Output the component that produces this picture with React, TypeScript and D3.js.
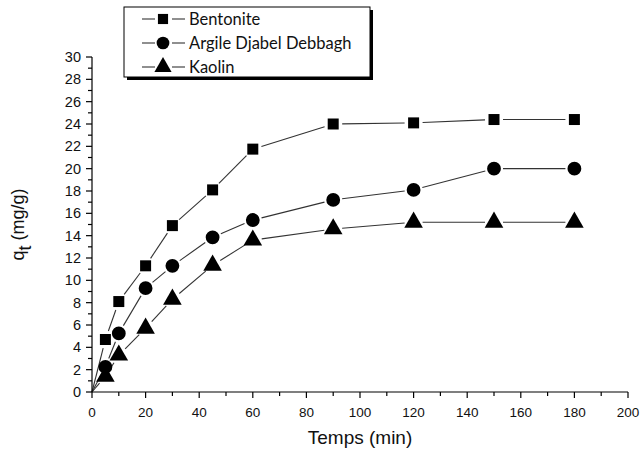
import * as d3 from 'd3';

const W = 642,
  H = 450;
const MARGIN = { top: 57, right: 14, bottom: 58, left: 92 };

const times = [0, 5, 10, 20, 30, 45, 60, 90, 120, 150, 180];
const bentonite = [0, 4.7, 8.1, 11.3, 14.9, 18.1, 21.75, 24.0, 24.1, 24.4, 24.4];
const argile = [0, 2.25, 5.25, 9.3, 11.3, 13.85, 15.4, 17.2, 18.1, 20.0, 20.0];
const kaolin = [0, 1.4, 3.3, 5.7, 8.3, 11.35, 13.6, 14.6, 15.2, 15.2, 15.2];

const seriesNames = ['Bentonite', 'Argile Djabel Debbagh', 'Kaolin'];
const seriesValues = [bentonite, argile, kaolin];
const seriesSymbols = [d3.symbolSquare, d3.symbolCircle, d3.symbolTriangle];
const symbolSizes = [121, 150, 150];

const xTicks = d3.range(0, 201, 20);
const yTicks = d3.range(0, 31, 2);

export default function App() {
  const boundsWidth = W - MARGIN.left - MARGIN.right;
  const boundsHeight = H - MARGIN.top - MARGIN.bottom;

  const xScale = d3.scaleLinear().domain([0, 200]).range([0, boundsWidth]);
  const yScale = d3.scaleLinear().domain([0, 30]).range([boundsHeight, 0]);

  const gap = 9;

  // lines with little gaps around the markers, Origin style
  const segs = seriesValues.map((vals, si) => {
    const pts = times.map((t, i) => [xScale(t), yScale(vals[i])]);
    return pts.slice(1).map((p, i) => {
      const a = pts[i];
      const dx = p[0] - a[0],
        dy = p[1] - a[1];
      const len = Math.sqrt(dx * dx + dy * dy);
      const g0 = i === 0 ? 0 : gap;
      if (len <= g0 + gap) return null;
      const ux = dx / len,
        uy = dy / len;
      return (
        <line
          key={si + '-' + i}
          x1={a[0] + ux * g0}
          y1={a[1] + uy * g0}
          x2={p[0] - ux * gap}
          y2={p[1] - uy * gap}
          stroke="#333"
          strokeWidth={1.1}
        />
      );
    });
  });

  const markers = seriesValues.map((vals, si) => {
    const path = d3.symbol().type(seriesSymbols[si]).size(symbolSizes[si])();
    return times.slice(1).map((t, i) => (
      <path
        key={si + '-' + i}
        d={path}
        transform={`translate(${xScale(t)},${yScale(vals[i + 1])})`}
        fill="black"
      />
    ));
  });

  const xMinor = d3.range(0, 201, 10);
  const yMinor = d3.range(0, 31, 1);

  return (
    <svg width={W} height={H} style={{ position: 'absolute', left: 0, top: 0, background: 'white' }}>
      <g transform={`translate(${MARGIN.left},${MARGIN.top})`} fontFamily="'Liberation Sans', Arial, sans-serif">
        {segs}
        {markers}
        {/* axes */}
        <line x1={0} x2={boundsWidth} y1={boundsHeight} y2={boundsHeight} stroke="black" strokeWidth={1.2} />
        <line x1={0} x2={0} y1={0} y2={boundsHeight} stroke="black" strokeWidth={1.2} />
        {xMinor.map((t) => (
          <line
            key={'xm' + t}
            x1={xScale(t)}
            x2={xScale(t)}
            y1={boundsHeight}
            y2={boundsHeight + (t % 20 === 0 ? 6 : 4)}
            stroke="black"
            strokeWidth={1.2}
          />
        ))}
        {yMinor.map((t) => (
          <line
            key={'ym' + t}
            x1={0}
            x2={t % 2 === 0 ? -6 : -4}
            y1={yScale(t)}
            y2={yScale(t)}
            stroke="black"
            strokeWidth={1.2}
          />
        ))}
        {xTicks.map((t) => (
          <text key={'xt' + t} x={xScale(t)} y={boundsHeight + 25} textAnchor="middle" fontSize={13.5} fill="#111">
            {t}
          </text>
        ))}
        {yTicks.map((t) => (
          <text
            key={'yt' + t}
            x={-11}
            y={yScale(t)}
            textAnchor="end"
            dominantBaseline="central"
            fontSize={14.5}
            fill="#111"
          >
            {t}
          </text>
        ))}
        <text x={boundsWidth / 2} y={boundsHeight + 52} textAnchor="middle" fontSize={19} fill="#111">
          Temps (min)
        </text>
        <text transform={`translate(${-68},${boundsHeight / 2}) rotate(-90)`} textAnchor="middle" fontSize={18} fill="#111">
          q<tspan dy={7} fontSize={18}>t</tspan>
          <tspan dy={-7}> (mg/g)</tspan>
        </text>
      </g>
      {/* legend */}
      <g fontFamily="Lato, 'Open Sans', sans-serif">
        <rect x={127} y={10} width={246} height={70} fill="black" />
        <rect x={124} y={7} width={246} height={70} fill="white" stroke="black" strokeWidth={1} />
        {seriesNames.map((name, i) => {
          const cy = 19 + i * 24;
          const path = d3.symbol().type(seriesSymbols[i]).size(symbolSizes[i] * 0.85)();
          return (
            <g key={name}>
              <line x1={142} x2={155} y1={cy} y2={cy} stroke="#333" strokeWidth={1.1} />
              <line x1={172} x2={185} y1={cy} y2={cy} stroke="#333" strokeWidth={1.1} />
              <path d={path} transform={`translate(163,${cy})`} fill="black" />
              <text x={189} y={cy} dominantBaseline="central" fontSize={16.5} fill="#111">
                {name}
              </text>
            </g>
          );
        })}
      </g>
    </svg>
  );
}
